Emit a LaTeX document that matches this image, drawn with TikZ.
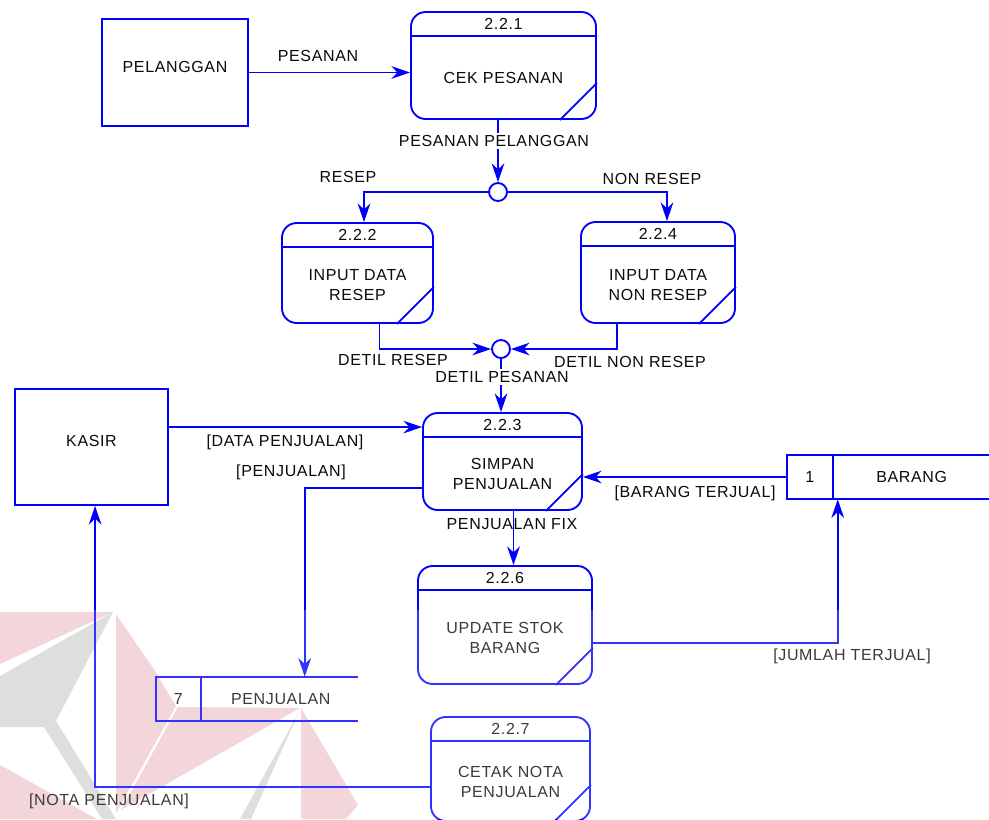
\documentclass[tikz,border=0pt]{standalone}
\usepackage{fontspec}
\setmainfont{Liberation Sans}[LetterSpace=4]
\usetikzlibrary{arrows.meta,calc,fit}
\definecolor{dfdblue}{RGB}{0,0,255}
\definecolor{wmpink}{RGB}{240,204,209}
\definecolor{wmgrey}{RGB}{214,214,214}
\definecolor{txt}{RGB}{10,10,10}

\newcommand\dfdproc[7]{%
  \node[procbox, fit={(#2,#3) (#4,#5)}] (#1) {};
  \draw[boxline] ($(#1.north west)+(0,25)$) -- ($(#1.north east)+(0,25)$);
  \draw[boxline] ($(#1.south east)+(-37,0)$) -- ($(#1.south east)+(0,-37)$);
  \node[ptext] (#1id) at ($(#1.north)+(0,12.5)$) {#6};
  \node[ptext] (#1tx) at ($(#1.center)+(0,12.5)$) {#7};
}

\begin{document}
\begin{tikzpicture}[x=0.75pt,y=-0.75pt,
  every node/.style={font=\fontsize{12}{15}\selectfont, text=txt},
  boxline/.style={draw=dfdblue, line width=1.4pt},
  entity/.style={boxline, inner sep=0pt, text height=8.6pt, text depth=0pt},
  procbox/.style={boxline, rounded corners=11pt, inner sep=0pt},
  ptext/.style={align=center, inner sep=0pt},
  lbl/.style={inner sep=0pt, text height=8.6pt, text depth=0pt},
  lblw/.style={lbl, fill=white, inner sep=1.5pt},
  junc/.style={circle, draw=dfdblue, line width=1.4pt, minimum size=13.5pt, inner sep=0pt, fill=white},
  flow/.style={draw=dfdblue, line width=1.4pt, -{Stealth[length=14pt,width=9.5pt,inset=4.5pt]}},
  storeline/.style={draw=dfdblue, line width=1.4pt}]
\useasboundingbox (0,0) rectangle (989,819);

% watermark
\fill[wmpink] (0,612) -- (113,612) -- (0,664) -- cycle;
\fill[wmpink] (116,614) -- (153,668) -- (176,706) -- (116,813) -- cycle;
\fill[wmpink] (0,765) -- (97,819) -- (0,819) -- cycle;
\fill[wmpink] (178,707) -- (300,708) -- (121,810) -- cycle;
\fill[wmpink] (301,708) -- (358,805) -- (346,819) -- (301,819) -- cycle;
\fill[wmgrey] (113,612) -- (0,676) -- (0,727) -- (44,727) -- (102,819) -- (116,819) -- (56,721) -- cycle;
\fill[wmgrey] (299,712) -- (251,819) -- (240,819) -- cycle;

% external entities
\node[entity, fit={(102,19) (248,126)}] (pel) {PELANGGAN};
\node[entity, fit={(15,389) (168,505)}] (kasir) {KASIR};

% processes
\dfdproc{p221}{411}{12}{596}{119}{2.2.1}{CEK PESANAN}
\dfdproc{p222}{282}{223}{433}{323}{2.2.2}{INPUT DATA\\RESEP}
\dfdproc{p224}{581}{222}{735}{323}{2.2.4}{INPUT DATA\\NON RESEP}
\dfdproc{p223}{423}{413}{582}{510}{2.2.3}{SIMPAN\\PENJUALAN}
\dfdproc{p226}{418}{566}{592}{684}{2.2.6}{UPDATE STOK\\BARANG}
\dfdproc{p227}{431}{717}{590}{821}{2.2.7}{CETAK NOTA\\PENJUALAN}

% junctions
\node[junc] (j1) at (498,192) {};
\node[junc] (j2) at (501,349) {};

% data stores
\node[inner sep=0pt, fit={(156,677) (358,721)}] (s7) {};
\draw[storeline] (s7.north east) -- (s7.north west) -- (s7.south west) -- (s7.south east);
\draw[storeline] ($(s7.north west)+(45,0)$) -- ($(s7.south west)+(45,0)$);
\node[lbl] (s7id) at ($(s7.west)+(22.5,0)$) {7};
\node[lbl] (s7tx) at ($(s7.west)+(125,0)$) {PENJUALAN};

\node[inner sep=0pt, fit={(787,455) (995,499)}] (s1) {};
\draw[storeline] (s1.north east) -- (s1.north west) -- (s1.south west) -- (s1.south east);
\draw[storeline] ($(s1.north west)+(46,0)$) -- ($(s1.south west)+(46,0)$);
\node[lbl] (s1id) at ($(s1.west)+(23,0)$) {1};
\node[lbl] (s1tx) at ($(s1.west)+(125,0)$) {BARANG};

% flows
\draw[flow] (pel.east) -- (pel.east -| p221.west);
\draw[flow] (j1 |- p221.south) -- (j1.north);
\draw[flow] (j1.west) -| ($(p222.north)+(6.5,0)$);
\draw[flow] (j1.east) -| ($(p224.north)+(9,0)$);
\draw[flow] ($(p222.south)+(22,0)$) |- (j2.west);
\draw[flow] ($(p224.south)+(-41,0)$) |- (j2.east);
\draw[flow] (j2.south) -- (j2.south |- p223.north);
\coordinate (c1) at ($(p223.north west)+(0,15)$);
\draw[flow] (kasir.east |- c1) -- (c1);
\coordinate (c2) at ($(p223.south west)+(0,-23)$);
\draw[flow] (c2) -| ($(s7.north west)+(149,0)$);
\coordinate (c3) at ($(p223.south)+(11,0)$);
\draw[flow] (c3) -- (c3 |- p226.north);
\draw[flow] ($(p226.south east)+(0,-42)$) -| ($(s1.south west)+(51,0)$);
\draw[flow] (s1.west) -- (s1.west -| p223.east);
\draw[flow] ($(p227.north west)+(0,71)$) -| ($(kasir.south west)+(81,0)$);

% flow labels
\node[lbl] (l1) at (318,56) {PESANAN};
\node[lblw] (l2) at (494,141) {PESANAN PELANGGAN};
\node[lbl] (l3) at (348,177) {RESEP};
\node[lbl] (l4) at (652,179) {NON RESEP};
\node[lbl] (l5) at (393,360) {DETIL RESEP};
\node[lbl] (l6) at (630,362) {DETIL NON RESEP};
\node[lblw] (l7) at (502,377) {DETIL PESANAN};
\node[lbl] (l8) at (285,441) {[DATA PENJUALAN]};
\node[lbl] (l9) at (291,471) {[PENJUALAN]};
\node[lbl] (l10) at (695,492) {[BARANG TERJUAL]};
\node[lbl] (l11) at (512,524) {PENJUALAN FIX};
\node[lbl] (l12) at (852,655) {[JUMLAH TERJUAL]};
\node[lbl] (l13) at (109,800) {[NOTA PENJUALAN]};

% faint overlay of the watermark layer
\fill[white, opacity=0.2] (0,610) rectangle (989,819);
\end{tikzpicture}
\end{document}
